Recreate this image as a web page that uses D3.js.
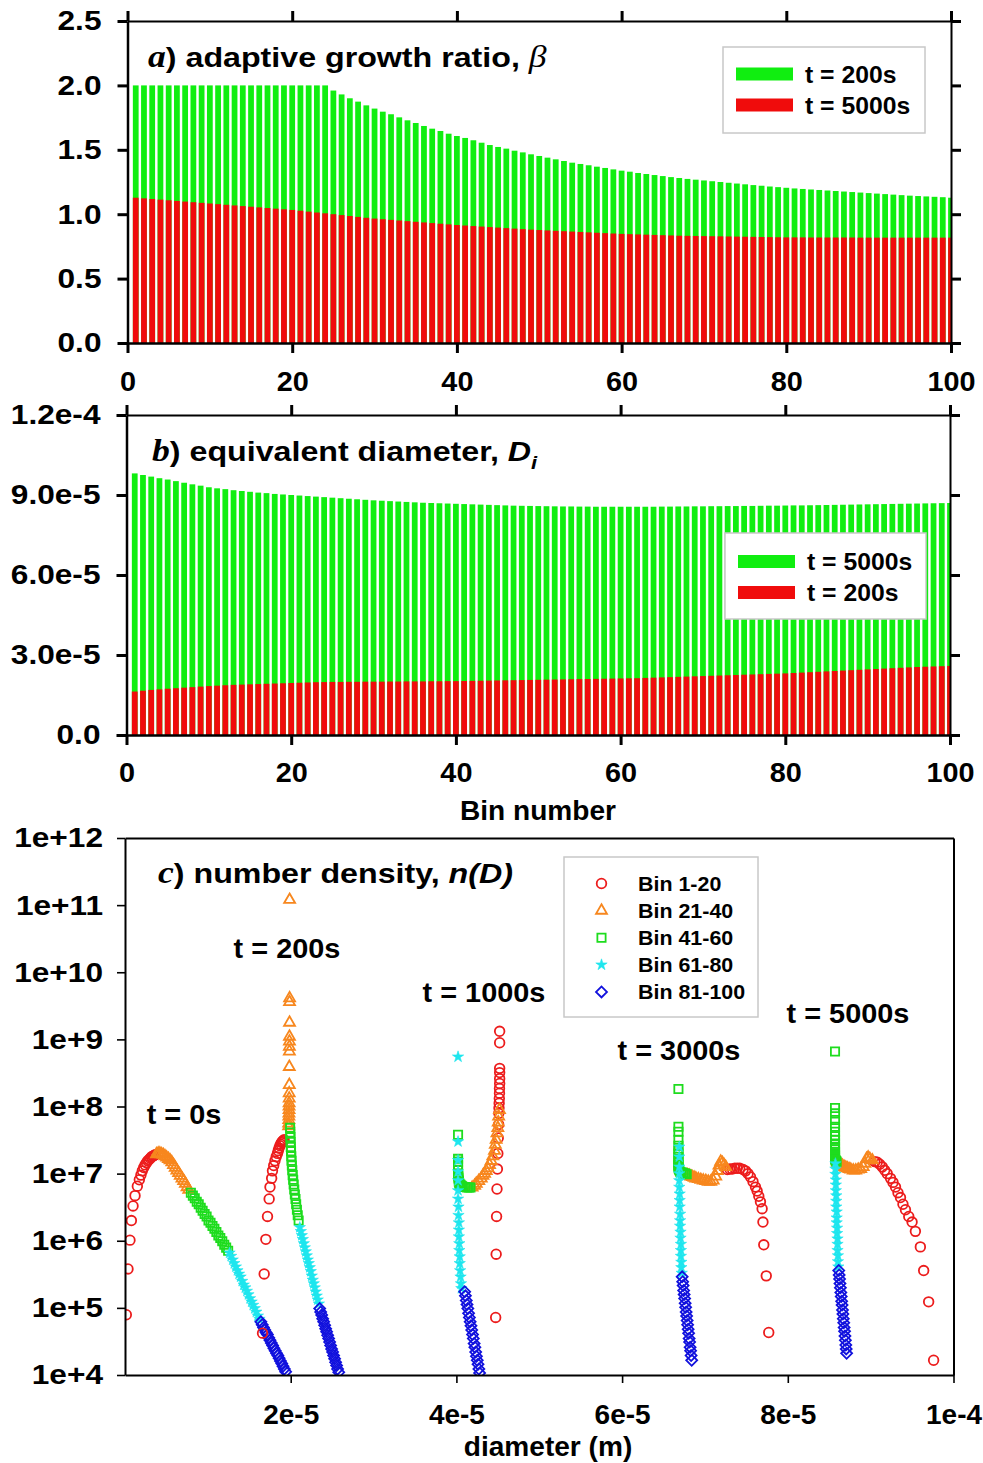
<!DOCTYPE html>
<html>
<head>
<meta charset="utf-8">
<script src="https://cdn.jsdelivr.net/npm/d3@7"></script>
<style>
  body { margin: 0; background: #fff; }
  svg text { white-space: pre; }
</style>
</head>
<body>
<svg id="fig" width="983" height="1463"></svg>
<script>
// ---------------- data ----------------
const bins = d3.range(1, 101);              // bin numbers 1..100
const binTicks = [0, 20, 40, 60, 80, 100];
const binTickLabels = ["0", "20", "40", "60", "80", "100"];

// a) adaptive growth ratio per bin
const betaT200 = [
  2.0,2.0,2.0,2.0,2.0,2.0,2.0,2.0,2.0,2.0,
  2.0,2.0,2.0,2.0,2.0,2.0,2.0,2.0,2.0,2.0,
  2.0,2.0,2.0,2.0,1.96,1.93,1.90,1.874,1.845,1.82,
  1.796,1.776,1.752,1.729,1.708,1.685,1.664,1.646,1.625,1.607,
  1.592,1.574,1.555,1.537,1.522,1.509,1.493,1.48,1.465,1.452,
  1.439,1.426,1.413,1.40,1.39,1.38,1.369,1.359,1.348,1.338,
  1.33,1.32,1.312,1.304,1.296,1.288,1.281,1.274,1.268,1.262,
  1.256,1.250,1.244,1.238,1.232,1.226,1.221,1.215,1.210,1.205,
  1.200,1.196,1.192,1.188,1.184,1.180,1.176,1.172,1.168,1.164,
  1.160,1.156,1.152,1.148,1.144,1.141,1.138,1.135,1.132,1.128
];
const betaT5000 = [
  1.128,1.123,1.118,1.113,1.108,1.103,1.098,1.093,1.088,1.083,
  1.078,1.073,1.068,1.063,1.058,1.053,1.048,1.043,1.038,1.033,
  1.027,1.020,1.013,1.007,1.000,0.993,0.986,0.979,0.972,0.966,
  0.961,0.956,0.951,0.946,0.941,0.936,0.931,0.926,0.921,0.916,
  0.912,0.908,0.904,0.900,0.896,0.892,0.888,0.884,0.880,0.877,
  0.874,0.871,0.868,0.865,0.862,0.859,0.856,0.853,0.850,0.847,
  0.845,0.843,0.841,0.839,0.837,0.835,0.833,0.832,0.831,0.830,
  0.829,0.828,0.827,0.826,0.825,0.824,0.823,0.822,0.821,0.820,
  0.820,0.820,0.819,0.819,0.819,0.819,0.819,0.819,0.818,0.818,
  0.818,0.818,0.818,0.818,0.818,0.818,0.818,0.818,0.818,0.818
];
const betaTicks = [0, 0.5, 1.0, 1.5, 2.0, 2.5];
const betaTickLabels = ["0.0", "0.5", "1.0", "1.5", "2.0", "2.5"];

// b) equivalent diameter per bin, micrometres
const diamT5000 = [
  98.1,97.5,96.9,96.3,95.8,95.2,94.6,94.0,93.5,92.9,
  92.5,92.2,91.8,91.5,91.2,90.9,90.7,90.4,90.2,90.0,
  89.8,89.6,89.4,89.2,89.0,88.8,88.6,88.4,88.2,88.0,
  87.85,87.7,87.55,87.4,87.25,87.1,87.0,86.9,86.8,86.7,
  86.6,86.5,86.4,86.3,86.2,86.1,86.0,85.95,85.9,85.85,
  85.8,85.75,85.7,85.7,85.65,85.65,85.6,85.6,85.6,85.6,
  85.6,85.6,85.6,85.6,85.65,85.65,85.7,85.7,85.75,85.75,
  85.8,85.8,85.85,85.85,85.9,85.9,85.95,86.0,86.0,86.05,
  86.1,86.1,86.15,86.2,86.25,86.3,86.35,86.4,86.45,86.5,
  86.55,86.6,86.65,86.7,86.75,86.8,86.85,86.9,86.95,87.0
];
const diamT200 = [
  16.3,16.6,16.9,17.1,17.35,17.55,17.75,17.95,18.15,18.35,
  18.5,18.65,18.8,18.9,19.0,19.1,19.2,19.3,19.4,19.5,
  19.6,19.7,19.8,19.85,19.9,19.9,19.95,19.95,20.0,20.0,
  20.0,20.05,20.05,20.1,20.1,20.1,20.15,20.15,20.2,20.2,
  20.25,20.3,20.35,20.4,20.45,20.5,20.55,20.6,20.65,20.7,
  20.75,20.8,20.85,20.9,20.95,21.0,21.05,21.1,21.15,21.2,
  21.25,21.3,21.4,21.5,21.6,21.7,21.8,21.9,22.0,22.1,
  22.2,22.3,22.4,22.5,22.6,22.7,22.8,22.9,23.0,23.1,
  23.25,23.4,23.55,23.7,23.85,24.0,24.15,24.3,24.45,24.6,
  24.75,24.9,25.05,25.2,25.35,25.5,25.6,25.7,25.8,25.9
];
const diamTicks = [0, 30, 60, 90, 120];
const diamTickLabels = ["0.0", "3.0e-5", "6.0e-5", "9.0e-5", "1.2e-4"];

// c) number density n(D) for each bin at five times; D in micrometres
const timeLabels = ["t = 0s", "t = 200s", "t = 1000s", "t = 3000s", "t = 5000s"];
const groupNames = ["Bin 1-20", "Bin 21-40", "Bin 41-60", "Bin 61-80", "Bin 81-100"];

const d0 = [
  0.16,0.36,0.60,0.77,0.97,1.21,1.49,1.73,1.92,2.09,
  2.26,2.43,2.59,2.75,2.91,3.06,3.21,3.36,3.50,3.64,
  3.80,4.01,4.21,4.42,4.62,4.83,5.03,5.24,5.44,5.65,
  5.85,6.06,6.26,6.47,6.67,6.88,7.08,7.29,7.49,7.70,
  7.95,8.19,8.42,8.66,8.90,9.14,9.37,9.61,9.85,10.08,
  10.32,10.56,10.79,11.03,11.27,11.50,11.74,11.98,12.21,12.45,
  12.62,12.81,13.00,13.19,13.38,13.57,13.76,13.95,14.14,14.33,
  14.52,14.71,14.90,15.09,15.28,15.47,15.66,15.85,16.04,16.23,
  16.40,16.56,16.72,16.87,17.03,17.19,17.35,17.50,17.66,17.82,
  17.97,18.13,18.29,18.45,18.60,18.76,18.92,19.07,19.23,19.39
];
const n0 = [
  7.9e4,3.8e5,1.02e6,2.0e6,3.3e6,4.7e6,6.5e6,8.1e6,9.5e6,1.10e7,
  1.23e7,1.35e7,1.45e7,1.55e7,1.62e7,1.70e7,1.78e7,1.82e7,1.86e7,1.91e7,
  1.95e7,2.0e7,2.0e7,1.95e7,1.91e7,1.82e7,1.74e7,1.66e7,1.58e7,1.48e7,
  1.35e7,1.23e7,1.12e7,1.02e7,9.3e6,8.5e6,7.8e6,7.1e6,6.3e6,5.75e6,
  5.2e6,4.7e6,4.3e6,3.8e6,3.5e6,3.1e6,2.8e6,2.5e6,2.3e6,2.0e6,
  1.86e6,1.66e6,1.51e6,1.35e6,1.20e6,1.10e6,9.8e5,8.7e5,7.9e5,7.1e5,
  6.6e5,5.9e5,5.2e5,4.6e5,4.1e5,3.6e5,3.2e5,2.9e5,2.5e5,2.2e5,
  2.0e5,1.78e5,1.58e5,1.38e5,1.23e5,1.10e5,9.8e4,8.7e4,7.6e4,6.8e4,
  6.2e4,5.6e4,5.1e4,4.7e4,4.3e4,4.0e4,3.6e4,3.3e4,3.0e4,2.75e4,
  2.5e4,2.3e4,2.1e4,1.95e4,1.78e4,1.62e4,1.48e4,1.35e4,1.23e4,1.12e4
];

const d200 = [
  16.6,16.8,17.0,17.2,17.4,17.5,17.7,17.8,17.95,18.1,
  18.25,18.4,18.5,18.6,18.7,18.8,18.9,19.0,19.1,19.2,
  19.75,19.76,19.77,19.78,19.79,19.80,19.80,19.81,19.82,19.82,
  19.83,19.83,19.84,19.84,19.85,19.85,19.86,19.86,19.87,19.87,
  19.93,19.95,19.97,19.99,20.01,20.04,20.07,20.10,20.14,20.19,
  20.24,20.30,20.36,20.43,20.50,20.58,20.66,20.75,20.85,20.96,
  21.10,21.22,21.34,21.46,21.58,21.70,21.82,21.94,22.06,22.18,
  22.30,22.42,22.54,22.66,22.78,22.90,23.02,23.14,23.26,23.40,
  23.50,23.62,23.74,23.86,23.98,24.10,24.22,24.34,24.46,24.58,
  24.70,24.82,24.94,25.06,25.18,25.30,25.42,25.54,25.66,25.80
];
const n200 = [
  4.2e4,3.2e5,1.05e6,2.3e6,4.2e6,6.3e6,8.5e6,1.10e7,1.32e7,1.55e7,
  1.78e7,2.0e7,2.2e7,2.4e7,2.6e7,2.75e7,2.9e7,3.0e7,3.1e7,3.2e7,
  5.1e7,5.6e7,6.3e7,7.1e7,7.9e7,8.9e7,1.0e8,1.12e8,1.32e8,1.58e8,
  2.1e8,3.9e8,6.6e8,7.8e8,9.3e8,1.10e9,1.78e9,3.6e9,4.1e9,1.2e11,
  4.8e7,4.1e7,3.5e7,2.95e7,2.5e7,2.15e7,1.82e7,1.55e7,1.32e7,1.12e7,
  9.5e6,8.1e6,6.9e6,5.8e6,4.9e6,4.2e6,3.5e6,2.9e6,2.4e6,2.0e6,
  1.58e6,1.38e6,1.20e6,1.05e6,9.1e5,7.9e5,6.9e5,6.0e5,5.2e5,4.6e5,
  4.0e5,3.5e5,3.0e5,2.6e5,2.3e5,2.0e5,1.74e5,1.51e5,1.32e5,1.15e5,
  9.8e4,8.7e4,7.8e4,6.9e4,6.2e4,5.5e4,4.9e4,4.4e4,3.9e4,3.5e4,
  3.1e4,2.75e4,2.45e4,2.2e4,1.95e4,1.74e4,1.55e4,1.38e4,1.23e4,1.10e4
];

const d1000 = [
  44.74,44.80,44.85,44.90,44.95,45.00,45.05,45.10,45.12,45.14,
  45.16,45.18,45.20,45.20,45.22,45.22,45.22,45.22,45.22,45.22,
  45.2,45.1,45.05,45.0,44.9,44.8,44.7,44.6,44.4,44.2,
  44.0,43.8,43.6,43.4,43.2,43.0,42.7,42.4,42.2,41.9,
  41.7,41.5,41.3,41.1,40.9,40.7,40.6,40.5,40.4,40.35,
  40.3,40.3,40.25,40.25,40.2,40.2,40.2,40.2,40.2,40.2,
  40.2,40.2,40.2,40.2,40.2,40.2,40.2,40.25,40.25,40.3,
  40.3,40.3,40.35,40.35,40.4,40.4,40.45,40.5,40.55,40.6,
  41.00,41.09,41.19,41.28,41.38,41.47,41.57,41.66,41.76,41.85,
  41.95,42.04,42.14,42.23,42.33,42.42,42.52,42.61,42.71,42.80
];
const n1000 = [
  7.2e4,6.3e5,2.3e6,5.9e6,1.17e7,2.0e7,3.4e7,5.4e7,7.9e7,9.5e7,
  1.12e8,1.32e8,1.58e8,1.86e8,2.2e8,2.6e8,3.2e8,3.7e8,8.9e8,1.32e9,
  8.9e7,7.1e7,5.8e7,4.8e7,4.0e7,3.2e7,2.7e7,2.2e7,1.82e7,1.55e7,
  1.35e7,1.20e7,1.10e7,1.0e7,9.3e6,8.5e6,7.8e6,7.1e6,6.6e6,6.2e6,
  6.2e6,6.2e6,6.2e6,6.3e6,6.3e6,6.5e6,6.6e6,6.8e6,6.9e6,7.2e6,
  7.6e6,7.9e6,8.5e6,9.1e6,1.0e7,1.12e7,1.32e7,1.51e7,1.66e7,3.8e7,
  5.5e8,3.0e7,1.58e7,1.07e7,7.9e6,5.6e6,4.2e6,3.2e6,2.4e6,1.86e6,
  1.45e6,1.15e6,9.1e5,7.2e5,5.8e5,4.6e5,3.6e5,2.9e5,2.3e5,1.95e5,
  1.74e5,1.51e5,1.29e5,1.12e5,9.8e4,8.3e4,7.2e4,6.2e4,5.4e4,4.7e4,
  4.0e4,3.5e4,2.95e4,2.6e4,2.2e4,1.9e4,1.66e4,1.45e4,1.23e4,1.07e4
];

const d3000 = [
  77.7,77.4,77.1,77.0,76.9,76.7,76.5,76.3,76.1,75.8,
  75.5,75.2,74.9,74.6,74.2,73.9,73.6,73.3,73.0,72.7,
  72.5,72.3,72.1,71.9,71.7,71.5,71.3,71.0,70.7,70.4,
  70.1,69.8,69.5,69.2,68.9,68.7,68.5,68.3,68.1,67.9,
  67.8,67.6,67.4,67.2,67.0,66.9,66.85,66.8,66.8,66.8,
  66.8,66.8,66.8,66.8,66.8,66.8,66.8,66.8,66.8,66.8,
  66.9,66.9,66.9,66.9,66.9,66.9,66.95,66.95,66.95,67.0,
  67.0,67.0,67.05,67.05,67.1,67.1,67.1,67.15,67.15,67.2,
  67.25,67.31,67.37,67.43,67.49,67.55,67.61,67.67,67.73,67.79,
  67.85,67.91,67.97,68.03,68.09,68.15,68.21,68.27,68.33,68.40
];
const n3000 = [
  4.3e4,3.0e5,8.7e5,1.9e6,3.0e6,3.8e6,4.6e6,5.5e6,6.3e6,7.6e6,
  8.9e6,1.0e7,1.10e7,1.15e7,1.20e7,1.20e7,1.20e7,1.17e7,1.17e7,1.15e7,
  1.26e7,1.35e7,1.45e7,1.51e7,1.32e7,1.10e7,9.1e6,7.9e6,7.6e6,7.6e6,
  7.8e6,7.9e6,8.1e6,8.3e6,8.5e6,8.7e6,8.9e6,9.1e6,9.3e6,9.5e6,
  9.8e6,1.0e7,1.02e7,1.05e7,1.07e7,1.12e7,1.17e7,1.23e7,1.29e7,1.35e7,
  1.45e7,1.58e7,1.78e7,2.0e7,2.2e7,2.6e7,3.2e7,4.2e7,5.0e7,1.82e8,
  2.5e7,1.78e7,1.26e7,1.0e7,7.9e6,6.3e6,5.0e6,4.0e6,3.2e6,2.5e6,
  2.0e6,1.66e6,1.35e6,1.10e6,8.9e5,7.2e5,5.9e5,4.8e5,4.0e5,3.3e5,
  2.9e5,2.45e5,2.15e5,1.82e5,1.58e5,1.38e5,1.17e5,1.02e5,8.7e4,7.6e4,
  6.5e4,5.6e4,4.8e4,4.2e4,3.5e4,3.1e4,2.6e4,2.3e4,1.95e4,1.66e4
];

const d5000 = [
  97.6,97.0,96.4,96.0,95.4,95.0,94.6,94.2,93.9,93.6,
  93.3,93.0,92.7,92.4,92.0,91.7,91.4,91.1,90.8,90.5,
  90.2,89.9,89.7,89.5,89.3,89.1,88.8,88.5,88.2,87.9,
  87.6,87.4,87.2,87.0,86.8,86.6,86.4,86.2,86.1,86.0,
  85.9,85.8,85.75,85.7,85.7,85.7,85.7,85.7,85.7,85.7,
  85.7,85.7,85.7,85.7,85.7,85.7,85.7,85.7,85.7,85.7,
  85.75,85.75,85.75,85.8,85.8,85.8,85.85,85.85,85.85,85.9,
  85.9,85.9,85.95,85.95,86.0,86.0,86.0,86.05,86.05,86.1,
  86.15,86.2,86.25,86.3,86.35,86.4,86.45,86.5,86.55,86.6,
  86.65,86.7,86.75,86.8,86.85,86.9,86.95,87.0,87.05,87.1
];
const n5000 = [
  1.66e4,1.23e5,3.6e5,8.1e5,1.38e6,1.9e6,2.3e6,2.9e6,3.5e6,4.4e6,
  5.2e6,6.3e6,7.4e6,8.5e6,1.0e7,1.12e7,1.26e7,1.38e7,1.48e7,1.51e7,
  1.58e7,1.66e7,1.74e7,1.66e7,1.41e7,1.26e7,1.17e7,1.15e7,1.12e7,1.12e7,
  1.15e7,1.17e7,1.20e7,1.23e7,1.26e7,1.32e7,1.35e7,1.38e7,1.41e7,1.45e7,
  1.51e7,1.55e7,1.58e7,1.66e7,1.74e7,1.82e7,1.91e7,2.0e7,2.1e7,2.3e7,
  2.5e7,2.8e7,3.2e7,3.6e7,4.2e7,5.0e7,6.3e7,7.9e7,9.5e7,6.6e8,
  1.41e7,1.17e7,9.8e6,8.1e6,6.8e6,5.6e6,4.7e6,3.9e6,3.2e6,2.7e6,
  2.2e6,1.86e6,1.55e6,1.29e6,1.07e6,8.9e5,7.2e5,6.0e5,4.9e5,4.1e5,
  3.6e5,3.1e5,2.7e5,2.3e5,2.0e5,1.70e5,1.48e5,1.26e5,1.10e5,9.3e4,
  8.1e4,6.9e4,6.0e4,5.1e4,4.5e4,3.8e4,3.3e4,2.8e4,2.45e4,2.1e4
];

const diameterTicks = [20, 40, 60, 80, 100];
const diameterTickLabels = ["2e-5", "4e-5", "6e-5", "8e-5", "1e-4"];
const densityTicks = [1e4, 1e5, 1e6, 1e7, 1e8, 1e9, 1e10, 1e11, 1e12];
const densityTickLabels = ["1e+4", "1e+5", "1e+6", "1e+7", "1e+8", "1e+9", "1e+10", "1e+11", "1e+12"];

// ---------------- drawing ----------------
const SANS = '"Liberation Sans", Arial, Helvetica, sans-serif';
const SERIF = '"Liberation Serif", "Times New Roman", serif';
const GREEN = "#10ee10", RED = "#f00c0c";
const svg = d3.select("#fig");
const defs = svg.append("defs");

// widen text horizontally around its anchor point
function stretch(sel, sx) {
  sel.each(function () {
    const t = d3.select(this);
    const x = +t.attr("x") || 0, y = +t.attr("y") || 0;
    t.attr("x", 0).attr("y", 0).attr("transform", `translate(${x},${y}) scale(${sx},1)`);
  });
  return sel;
}

function styleAxis(g, o) {
  g.attr("font-family", SANS).attr("font-size", o.fs || 28).attr("font-weight", "bold");
  g.select(".domain").attr("stroke", "#000").attr("stroke-width", o.dw || 2);
  g.selectAll(".tick line").attr("stroke", "#000").attr("stroke-width", o.tw || 3);
  const tx = g.selectAll(".tick text").attr("fill", "#000");
  if (o.sx) stretch(tx, o.sx);
}

function title(x, y, parts) {
  const t = svg.append("text").attr("x", x).attr("y", y).attr("fill", "#000");
  parts.forEach(p => {
    const s = t.append("tspan").text(p.t)
      .attr("font-family", p.serif ? SERIF : SANS)
      .attr("font-size", p.fs || 28)
      .attr("font-weight", p.light ? "normal" : "bold")
      .attr("font-style", p.it ? "italic" : "normal");
    if (p.dy) s.attr("dy", p.dy);
  });
  stretch(t, 1.15);
}

function plainText(x, y, str, size, sx, anchor) {
  const t = svg.append("text").attr("x", x).attr("y", y).attr("text-anchor", anchor || "middle").text(str)
    .attr("font-family", SANS).attr("font-weight", "bold").attr("font-size", size).attr("fill", "#000");
  stretch(t, sx);
  return t;
}

function barLegend(box, items) {
  const g = svg.append("g");
  g.append("rect").attr("x", box.x).attr("y", box.y).attr("width", box.w).attr("height", box.h)
    .attr("fill", "#fff").attr("stroke", "#c8c8c8").attr("stroke-width", 1.5);
  items.forEach((it, i) => {
    const yy = box.y + box.first + i * box.step;
    g.append("rect").attr("x", box.x + 13).attr("y", yy - 6.5).attr("width", 57).attr("height", 13).attr("fill", it.color);
    plainText(box.x + 82, yy + 8.5, it.label, 24, 1.03, "start");
  });
}

function barPanel(p) {
  const x = d3.scaleLinear().domain([0, 100]).range([p.x0, p.x1]);
  const y = d3.scaleLinear().domain([0, p.ymax]).range([p.yb, p.yt]);
  defs.append("clipPath").attr("id", p.id).append("rect")
    .attr("x", p.x0).attr("y", p.yt).attr("width", p.x1 - p.x0).attr("height", p.yb - p.yt);
  const plot = svg.append("g").attr("clip-path", `url(#${p.id})`);
  const bw = x(0.7) - x(0);
  p.series.forEach(s => {
    plot.selectAll(null).data(s.values).join("rect")
      .attr("x", (v, i) => x(bins[i]) - bw / 2).attr("width", bw)
      .attr("y", v => y(v)).attr("height", v => p.yb - y(v)).attr("fill", s.color);
  });
  const L = 10;
  const gl = svg.append("g").attr("transform", `translate(${p.x0},0)`)
    .call(d3.axisLeft(y).tickValues(p.yTicks).tickFormat((d, i) => p.yLabels[i]).tickSize(L).tickSizeOuter(0).tickPadding(16));
  styleAxis(gl, { dw: 2.5, sx: 1.13 });
  const gr = svg.append("g").attr("transform", `translate(${p.x1},0)`)
    .call(d3.axisRight(y).tickValues(p.yTicks).tickFormat("").tickSize(L).tickSizeOuter(0));
  styleAxis(gr, { dw: 2 });
  const gb = svg.append("g").attr("transform", `translate(0,${p.yb})`)
    .call(d3.axisBottom(x).tickValues(binTicks).tickFormat((d, i) => binTickLabels[i]).tickSize(L).tickSizeOuter(0).tickPadding(p.xPad));
  styleAxis(gb, { dw: 2.5, sx: 1.03 });
  const gt = svg.append("g").attr("transform", `translate(0,${p.yt})`)
    .call(d3.axisTop(x).tickValues(binTicks).tickFormat("").tickSize(L).tickSizeOuter(0));
  styleAxis(gt, { dw: 2 });
}

// panel a
barPanel({
  id: "clipA", x0: 127.5, x1: 951, yt: 21, yb: 343, ymax: 2.5,
  yTicks: betaTicks, yLabels: betaTickLabels, xPad: 18,
  series: [{ values: betaT200, color: GREEN }, { values: betaT5000, color: RED }]
});
title(148, 67, [
  { t: "a", serif: true, it: true, fs: 31 },
  { t: ") adaptive growth ratio, " },
  { t: "β", serif: true, it: true, fs: 31, light: true }
]);
barLegend({ x: 723, y: 47, w: 202, h: 86, first: 27, step: 31 },
  [{ label: "t = 200s", color: GREEN }, { label: "t = 5000s", color: RED }]);

// panel b
barPanel({
  id: "clipB", x0: 126.5, x1: 950, yt: 415, yb: 735, ymax: 120,
  yTicks: diamTicks, yLabels: diamTickLabels, xPad: 17,
  series: [{ values: diamT5000, color: GREEN }, { values: diamT200, color: RED }]
});
title(152, 461, [
  { t: "b", serif: true, it: true, fs: 31 },
  { t: ") equivalent diameter, " },
  { t: "D", it: true },
  { t: "i", it: true, fs: 19, dy: 8 }
]);
barLegend({ x: 725, y: 533, w: 201, h: 86, first: 28.5, step: 31 },
  [{ label: "t = 5000s", color: GREEN }, { label: "t = 200s", color: RED }]);
plainText(538, 820, "Bin number", 27, 1.04);

// panel c
const cx = d3.scaleLinear().domain([0, 100]).range([125, 953.5]);
const cy = d3.scaleLog().domain([1e4, 1e12]).range([1375, 838]);
const groupColors = ["#ec1c1c", "#f7871e", "#1edc1e", "#1ee6ee", "#1111dd"];
const markers = [
  g => g.append("circle").attr("r", 4.8),
  g => g.append("path").attr("d", d3.symbol(d3.symbolTriangle, 52)()),
  g => g.append("path").attr("d", d3.symbol(d3.symbolSquare, 68)()),
  g => g.append("path").attr("d", d3.symbol(d3.symbolStar, 40)()),
  g => g.append("path").attr("d", d3.symbol(d3.symbolSquare, 60)()).attr("transform", "rotate(45)")
];
function drawMarker(parent, gi, px, py) {
  const g = parent.append("g").attr("transform", `translate(${px},${py})`);
  const m = markers[gi](g);
  if (gi === 3) m.attr("fill", groupColors[gi]).attr("stroke", groupColors[gi]).attr("stroke-width", 0.6);
  else m.attr("fill", "none").attr("stroke", groupColors[gi]).attr("stroke-width", 1.8);
}

const snapDiam = [d0, d200, d1000, d3000, d5000];
const snapDens = [n0, n200, n1000, n3000, n5000];
defs.append("clipPath").attr("id", "clipC").append("rect").attr("x", 125).attr("y", 838).attr("width", 829).attr("height", 538);
const pts = svg.append("g").attr("clip-path", "url(#clipC)");
snapDiam.forEach((ds, s) => {
  ds.forEach((d, i) => drawMarker(pts, Math.floor(i / 20), cx(d), cy(snapDens[s][i])));
});

const gcl = svg.append("g").attr("transform", "translate(125,0)")
  .call(d3.axisLeft(cy).tickValues(densityTicks).tickFormat((d, i) => densityTickLabels[i]).tickSize(8).tickSizeOuter(0).tickPadding(14));
styleAxis(gcl, { dw: 2, tw: 1.6, sx: 1.13 });
const gcb = svg.append("g").attr("transform", "translate(0,1375)")
  .call(d3.axisBottom(cx).tickValues(diameterTicks).tickFormat((d, i) => diameterTickLabels[i]).tickSize(8).tickSizeOuter(0).tickPadding(21));
styleAxis(gcb, { dw: 2, tw: 1.6 });
const gct = svg.append("g").attr("transform", "translate(0,838)")
  .call(d3.axisTop(cx).tickValues([]).tickSizeOuter(0));
styleAxis(gct, { dw: 2 });
const gcr = svg.append("g").attr("transform", "translate(953.5,0)")
  .call(d3.axisRight(cy).tickValues([]).tickSizeOuter(0));
styleAxis(gcr, { dw: 2 });

title(158, 883, [
  { t: "c", serif: true, it: true, fs: 31 },
  { t: ") number density, " },
  { t: "n(D)", it: true }
]);
plainText(548, 1456, "diameter (m)", 27, 1.04);

// time annotations
const timeLabelPos = [[184, 1124], [287, 958], [484, 1002], [679, 1060], [848, 1023]];
timeLabels.forEach((t, i) => plainText(timeLabelPos[i][0], timeLabelPos[i][1], t, 27, 1.07));

// legend of bin groups
const lg = svg.append("g");
lg.append("rect").attr("x", 564).attr("y", 857).attr("width", 194).attr("height", 160)
  .attr("fill", "#fff").attr("stroke", "#c8c8c8").attr("stroke-width", 1.5);
groupNames.forEach((name, i) => {
  const yy = 883.5 + i * 27.1;
  drawMarker(lg, i, 601.5, yy);
  plainText(638, yy + 7.5, name, 21, 1.02, "start");
});
</script>
</body>
</html>
